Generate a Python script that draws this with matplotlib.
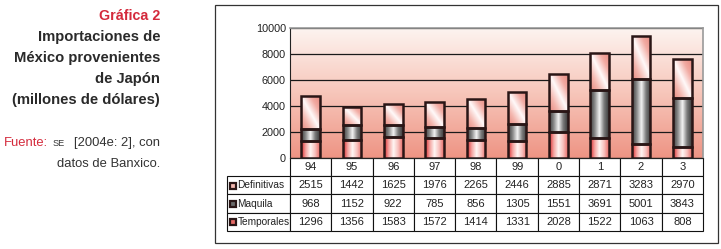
import matplotlib
matplotlib.use('Agg')
import matplotlib.pyplot as plt
import numpy as np
from matplotlib.colors import LinearSegmentedColormap
from matplotlib.patches import Rectangle

years = ['94', '95', '96', '97', '98', '99', '0', '1', '2', '3']
temporales = [1296, 1356, 1583, 1572, 1414, 1331, 2028, 1522, 1063, 808]
maquila = [968, 1152, 922, 785, 856, 1305, 1551, 3691, 5001, 3843]
definitivas = [2515, 1442, 1625, 1976, 2265, 2446, 2885, 2871, 3283, 2970]

plt.rcParams['font.family'] = ['Liberation Sans', 'DejaVu Sans']

fig = plt.figure(figsize=(7.21, 2.49), dpi=100)
ax = fig.add_axes([290 / 721, 91 / 249, 413 / 721, 130 / 249])
ax.set_xlim(-0.5, 9.5)
ax.set_ylim(0, 10000)

# background gradient (dark pink at bottom, pale at top)
bg = LinearSegmentedColormap.from_list('bg', ['#ee9484', '#f7c6ba', '#fdf4f0'])
ax.imshow(np.linspace(0, 1, 256).reshape(-1, 1), cmap=bg, origin='lower',
          extent=[-0.5, 9.5, 0, 10000], aspect='auto', zorder=0)
ax.set_yticks(range(0, 10001, 2000))
ax.yaxis.grid(True, color='#1a1a1a', linewidth=0.9)
ax.set_axisbelow(True)
ax.set_xticks([])
ax.tick_params(axis='y', labelsize=7.8, length=0, pad=3, colors='#222222')
for s in ['top', 'right']:
    ax.spines[s].set_color('#9a9a9a')
    ax.spines[s].set_linewidth(1.2)
ax.spines['left'].set_color('#222222')
ax.spines['bottom'].set_color('#222222')

cm_temp = LinearSegmentedColormap.from_list('t', ['#d8262a', '#f4a4a0', '#fff6f4', '#f8c0bc', '#e86c68'])
cm_maq = LinearSegmentedColormap.from_list('m', ['#3a3a3a', '#8a8a8a', '#f4f4f4', '#7a7a7a', '#3a3a3a'])
cm_def = LinearSegmentedColormap.from_list('d', ['#e88a80', '#f4b8b0', '#fffafa', '#f2aca4', '#e88a80'])

x = np.arange(len(years))
w = 0.45
bottom2 = np.array(temporales)
bottom3 = bottom2 + np.array(maquila)
horiz = np.linspace(0, 1, 128).reshape(1, -1)
uu, vv = np.meshgrid(np.linspace(0, 1, 64), np.linspace(0, 1, 64))
diag = (uu + vv) / 2

for vals, bots, cmap, img in [(temporales, 0, cm_temp, horiz),
                              (maquila, bottom2, cm_maq, horiz),
                              (definitivas, bottom3, cm_def, diag)]:
    bars = ax.bar(x, vals, w, bottom=bots, facecolor='none', edgecolor='#2a1616',
                  linewidth=1.8, zorder=4)
    for b in bars:
        x0, y0 = b.get_x(), b.get_y()
        im = ax.imshow(img, cmap=cmap, origin='lower', aspect='auto',
                       extent=[x0, x0 + b.get_width(), y0, y0 + b.get_height()], zorder=3)
        im.set_clip_path(b)

ax.set_xlim(-0.5, 9.5)
ax.set_ylim(0, 10000)

# data table below the plot
rows = [[''] + years,
        ['Definitivas'] + [str(v) for v in definitivas],
        ['Maquila'] + [str(v) for v in maquila],
        ['Temporales'] + [str(v) for v in temporales]]
total_w = 476
colw = [63 / total_w] + [41.3 / total_w] * 10
tab = ax.table(cellText=rows, cellLoc='center', colWidths=colw,
               bbox=[-63 / 413, -73 / 130, 476 / 413, 73 / 130])
tab.auto_set_font_size(False)
tab.set_fontsize(8)
for (r, c), cell in tab.get_celld().items():
    cell.set_linewidth(0.8)
    cell.set_edgecolor('#111111')
    cell.get_text().set_color('#222222')
    if c == 0:
        cell.get_text().set_ha('left')
        cell.get_text().set_fontsize(7.3)
        cell.PAD = 0.165
    if r == 0 and c == 0:
        cell.visible_edges = ''

# legend keys in the row labels
key_cols = ['#f4b8b0', '#6a6a6a', '#e86c68']
for i, fc in enumerate(key_cols):
    yc = 249 - (177 + 18 * i + 9)
    fig.patches.append(Rectangle((229.5 / 721, (yc - 3) / 249), 6 / 721, 6 / 249,
                                 transform=fig.transFigure, facecolor=fc,
                                 edgecolor='#2a1616', linewidth=1.6))

# outer frame
fig.patches.append(Rectangle((215 / 721, 6 / 249), 503 / 721, 238 / 249,
                             transform=fig.transFigure, fill=False,
                             edgecolor='#333333', linewidth=0.9))

# left side caption
red = '#d42a3c'
fig.text(160 / 721, 1 - 16 / 249, 'Gráfica 2', color=red, fontsize=10.3, fontweight='bold',
         ha='right', va='center')
cap = ['Importaciones de', 'México provenientes', 'de Japón', '(millones de dólares)']
for i, line in enumerate(cap):
    fig.text(160 / 721, 1 - (37 + 21 * i) / 249, line, color='#2a2a2a', fontsize=10.6,
             fontweight='bold', ha='right', va='center')
fig.text(4 / 721, 1 - 143 / 249, 'Fuente:', color=red, fontsize=9.4, ha='left', va='center')
fig.text(53 / 721, 1 - 143 / 249, 'SE', color='#333333', fontsize=6.6, ha='left', va='center')
fig.text(160 / 721, 1 - 143 / 249, '[2004e: 2], con', color='#333333', fontsize=9.4,
         ha='right', va='center')
fig.text(160 / 721, 1 - 164 / 249, 'datos de Banxico.', color='#333333', fontsize=9.4,
         ha='right', va='center')

fig.savefig('out.png', dpi=100)
